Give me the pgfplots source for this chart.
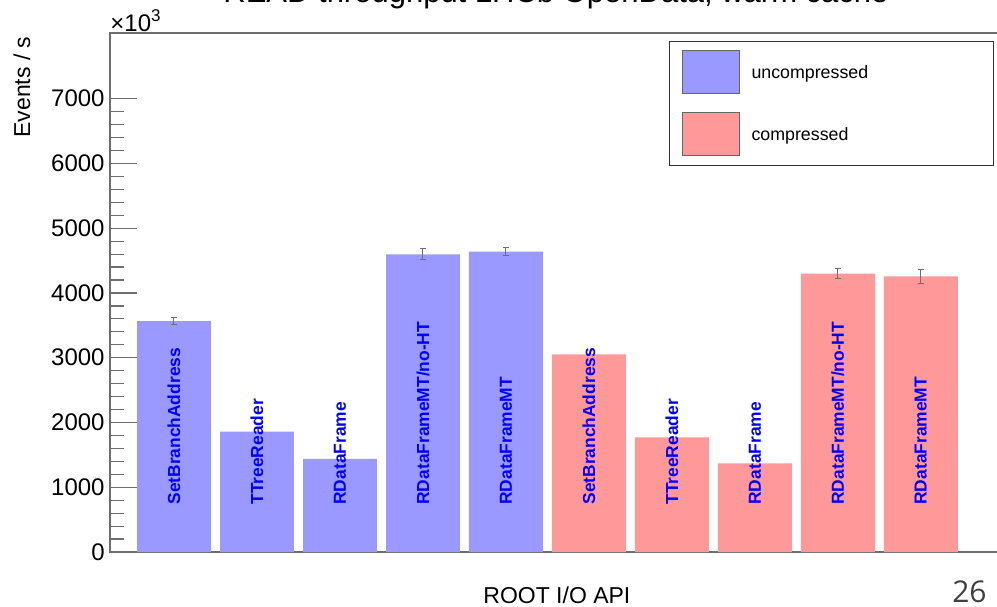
\documentclass[border=0pt]{standalone}
\usepackage{fontspec}
\setmainfont{Liberation Sans}
\newfontfamily\slidefont{Open Sans}
\usepackage{pgfplots}
\pgfplotsset{compat=1.18}
\usepackage{pgfplotstable}
\definecolor{ublue}{RGB}{153,153,255}
\definecolor{cred}{RGB}{255,153,153}
\definecolor{axgray}{RGB}{110,110,110}
\definecolor{labblue}{RGB}{0,0,255}

\pgfplotstableread{
x y
0 3567
1 1858
2 1440
3 4595
4 4640
}\uncomp
\pgfplotstableread{
x y
5 3053
6 1771
7 1370
8 4300
9 4255
}\comp
\pgfplotstableread{
x y e
0 3567 47
3 4595 85
4 4640 55
8 4300 80
9 4255 110
}\errs

\begin{document}
\begin{tikzpicture}
\begin{axis}[
  at={(0,0)}, anchor=south west,
  scale only axis, width=446pt, height=259.5pt,
  xmin=-0.771, xmax=9.978, ymin=0, ymax=8015,
  axis line style={axgray, line width=0.6pt},
  xtick=\empty,
  ytick={0,1000,...,7000}, minor y tick num=4,
  tick pos=left, tick align=inside,
  major tick length=13.5pt, minor tick length=7pt,
  tick style={axgray, line width=0.6pt},
  scaled y ticks=false,
  /pgf/number format/assume math mode=true,
  yticklabel style={font=\fontsize{12}{12}\selectfont, inner xsep=2.5pt, /pgf/number format/1000 sep={}},
  ylabel={Events / s},
  ylabel style={at={(axis description cs:-0.1087,0.994)}, anchor=north east, inner sep=0pt, font=\fontsize{11.5}{12}\selectfont},
  xlabel={ROOT I/O API},
  xlabel style={at={(axis description cs:0.501,-0.0983)}, anchor=base, inner sep=0pt, font=\fontsize{11.5}{12}\selectfont},
  title={READ throughput LHCb OpenData, warm cache},
  title style={at={(axis description cs:0.5,1.0365)}, anchor=base, inner sep=0pt, font=\fontsize{15.5}{16}\selectfont},
  legend style={at={(axis description cs:0.6267,0.9852)}, anchor=north west, draw=black!80, line width=0.5pt, fill=white,
    inner xsep=6pt, inner ysep=4.65pt, row sep=9pt, column sep=6pt,
    font=\fontsize{8.9}{10}\selectfont,
    nodes={inner sep=0pt, text depth=0pt, text width=115pt}},
  legend cell align=left,
  clip=true,
]
\addplot[ybar, bar width=0.89, bar shift=0pt, fill=ublue, draw=none,
  legend image code/.code={\draw[fill=ublue, draw=black!60, line width=0.5pt] (0pt,-10.75pt) rectangle (28.5pt,10.75pt);}]
  table[x=x,y=y]{\uncomp};
\addlegendentry{uncompressed}
\addplot[ybar, bar width=0.89, bar shift=0pt, fill=cred, draw=none,
  legend image code/.code={\draw[fill=cred, draw=black!60, line width=0.5pt] (0pt,-10.75pt) rectangle (28.5pt,10.75pt);}]
  table[x=x,y=y]{\comp};
\addlegendentry{compressed}
\addplot[draw=none, mark=none, forget plot,
  error bars/.cd, y dir=both, y explicit,
  error bar style={draw=axgray, line width=0.5pt},
  error mark options={draw=axgray, line width=0.5pt, mark size=1.6pt, rotate=90}]
  table[x=x,y=y,y error=e]{\errs};
\tikzset{blab/.style={rotate=90, anchor=west, inner sep=0pt, text=labblue, font=\bfseries\fontsize{8.7}{9}\selectfont}}
\node[blab] at (axis cs:0,726) {SetBranchAddress};
\node[blab] at (axis cs:1,726) {TTreeReader};
\node[blab] at (axis cs:2,726) {RDataFrame};
\node[blab] at (axis cs:3,726) {RDataFrameMT/no-HT};
\node[blab] at (axis cs:4,726) {RDataFrameMT};
\node[blab] at (axis cs:5,726) {SetBranchAddress};
\node[blab] at (axis cs:6,726) {TTreeReader};
\node[blab] at (axis cs:7,726) {RDataFrame};
\node[blab] at (axis cs:8,726) {RDataFrameMT/no-HT};
\node[blab] at (axis cs:9,726) {RDataFrameMT};
\end{axis}
\node[anchor=base west, inner sep=0pt, font=\fontsize{12}{12}\selectfont] at (0pt,260pt) {×10\raisebox{0.42em}{\fontsize{8.5}{9}\selectfont 3}};
\node[anchor=base east, inner sep=0pt, text=black!75, font=\slidefont\fontsize{15}{15}\selectfont] at (438.5pt,-25.2pt) {26};
\pgfresetboundingbox
\path[use as bounding box] (-55pt,-27pt) rectangle (443.5pt,276pt);
\end{tikzpicture}
\end{document}
